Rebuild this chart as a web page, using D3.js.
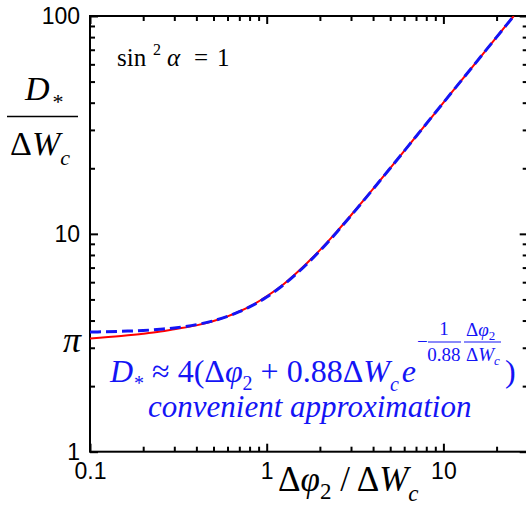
<!DOCTYPE html>
<html>
<head>
<meta charset="utf-8">
<script src="https://cdn.jsdelivr.net/npm/d3@7"></script>
<style>
  body { margin: 0; background: #fff; }
  svg { display: block; }
  .serif { font-family: "Liberation Serif", "Times New Roman", serif; }
  .tick text { font-family: "Liberation Sans", Arial, sans-serif; font-size: 23px; fill: #000; }
</style>
</head>
<body>
<div id="viz-container"></div>
<script>
// x values (Δφ2/ΔWc)
var xValues = [0.1, 0.15, 0.2, 0.25, 0.3, 0.4, 0.5, 0.6, 0.7, 0.8, 1, 1.2, 1.5, 2, 2.5, 3, 4, 5, 7, 10, 15, 20, 25];
// exact curve (red, solid)
var exactValues = [3.31, 3.40, 3.48, 3.56, 3.65, 3.80, 3.98, 4.18, 4.40, 4.63, 5.17, 5.73, 6.70, 8.42, 10.27, 12.17, 16.08, 20.03, 28.0, 40.0, 60.0, 80.0, 100.0];
// approximation (blue, dashed)
var approxValues = [3.54, 3.57, 3.60, 3.65, 3.70, 3.83, 3.99, 4.18, 4.39, 4.62, 5.13, 5.70, 6.64, 8.36, 10.21, 12.12, 16.04, 20.01, 28.0, 40.0, 60.0, 80.0, 100.0];

var xMajor = [0.1, 1, 10];
var xMinor = [0.2, 0.3, 0.4, 0.5, 0.6, 0.7, 0.8, 0.9, 2, 3, 4, 5, 6, 7, 8, 9, 20];
var yMajor = [1, 10, 100];
var yMinor = [2, 3, 4, 5, 6, 7, 8, 9, 20, 30, 40, 50, 60, 70, 80, 90];
var xDomain = [0.1, 30];
var yDomain = [1, 100];

var width = 526, height = 508;
var plotLeft = 90, plotRight = 527.7, plotTop = 16, plotBottom = 451.7;
var blue = "#1414f5";

var svg = d3.select("#viz-container").append("svg")
    .attr("width", width)
    .attr("height", height);

var x = d3.scaleLog().domain(xDomain).range([plotLeft, plotRight]);
var y = d3.scaleLog().domain(yDomain).range([plotBottom, plotTop]);

function drawAxis(axis, tx, ty) {
    var g = svg.append("g")
        .attr("transform", "translate(" + tx + "," + ty + ")")
        .call(axis);
    g.select(".domain").remove();
    g.selectAll(".tick line").attr("stroke", "#000").attr("stroke-width", 2);
    return g;
}

// bottom
drawAxis(d3.axisBottom(x).tickValues(xMajor).tickSize(-8).tickPadding(11).tickFormat(d3.format("")), 0, plotBottom)
    .selectAll("text").attr("dy", "0.71em");
drawAxis(d3.axisBottom(x).tickValues(xMinor).tickSize(-5).tickFormat(""), 0, plotBottom);
// top
drawAxis(d3.axisTop(x).tickValues(xMajor).tickSize(-8).tickFormat(""), 0, plotTop);
drawAxis(d3.axisTop(x).tickValues(xMinor).tickSize(-5).tickFormat(""), 0, plotTop);
// left
drawAxis(d3.axisLeft(y).tickValues(yMajor).tickSize(-8).tickPadding(10).tickFormat(d3.format("")), plotLeft, 0);
drawAxis(d3.axisLeft(y).tickValues(yMinor).tickSize(-5).tickFormat(""), plotLeft, 0);
// right
drawAxis(d3.axisRight(y).tickValues(yMajor).tickSize(-8).tickFormat(""), plotRight, 0);
drawAxis(d3.axisRight(y).tickValues(yMinor).tickSize(-5).tickFormat(""), plotRight, 0);

// frame
svg.append("rect")
    .attr("x", plotLeft).attr("y", plotTop)
    .attr("width", plotRight - plotLeft).attr("height", plotBottom - plotTop)
    .attr("fill", "none").attr("stroke", "#000").attr("stroke-width", 2);

svg.append("clipPath").attr("id", "plot-clip")
    .append("rect")
    .attr("x", plotLeft).attr("y", plotTop)
    .attr("width", plotRight - plotLeft).attr("height", plotBottom - plotTop);

var line = d3.line()
    .x(function(d) { return x(d[0]); })
    .y(function(d) { return y(d[1]); })
    .curve(d3.curveMonotoneX);

var plot = svg.append("g").attr("clip-path", "url(#plot-clip)");

plot.append("path")
    .datum(xValues.map(function(v, i) { return [v, exactValues[i]]; }))
    .attr("d", line)
    .attr("fill", "none")
    .attr("stroke", "#ff0000")
    .attr("stroke-width", 2);

plot.append("path")
    .datum(xValues.map(function(v, i) { return [v, approxValues[i]]; }))
    .attr("d", line)
    .attr("fill", "none")
    .attr("stroke", blue)
    .attr("stroke-width", 3)
    .attr("stroke-dasharray", "11,5");

// pi label on the y axis
svg.append("text").attr("class", "serif")
    .attr("x", 81).attr("y", y(Math.PI) + 9)
    .attr("text-anchor", "end")
    .style("font-size", "36px").style("font-style", "italic")
    .text("π");

// y axis title: D* / ΔWc
var yt = svg.append("text").attr("class", "serif")
    .attr("x", 25).attr("y", 100).style("font-size", "34px");
yt.append("tspan").style("font-style", "italic").text("D");
yt.append("tspan").attr("dx", 3).attr("dy", 9).style("font-size", "22px").text("*");
svg.append("line")
    .attr("x1", 7).attr("x2", 78).attr("y1", 116.5).attr("y2", 116.5)
    .attr("stroke", "#000").attr("stroke-width", 1.5);
var yb = svg.append("text").attr("class", "serif")
    .attr("x", 10).attr("y", 155).style("font-size", "34px");
yb.append("tspan").text("Δ");
yb.append("tspan").style("font-style", "italic").text("W");
yb.append("tspan").attr("dy", 10).style("font-size", "22px").style("font-style", "italic").text("c");

// x axis title: Δφ2 / ΔWc
var xt = svg.append("text").attr("class", "serif")
    .attr("x", 278).attr("y", 491).style("font-size", "35px");
xt.append("tspan").text("Δ");
xt.append("tspan").style("font-style", "italic").text("φ");
xt.append("tspan").attr("dy", 8).style("font-size", "23px").text("2");
xt.append("tspan").attr("dy", -8).style("font-size", "35px").text(" / Δ");
xt.append("tspan").style("font-style", "italic").text("W");
xt.append("tspan").attr("dy", 10).style("font-size", "23px").style("font-style", "italic").text("c");

// sin^2 alpha = 1
var s = svg.append("g").attr("class", "serif").style("font-size", "25px");
s.append("text").attr("x", 117).attr("y", 66).text("sin");
s.append("text").attr("x", 153).attr("y", 55).style("font-size", "16px").text("2");
s.append("text").attr("x", 167).attr("y", 66).style("font-style", "italic").text("α");
s.append("text").attr("x", 194).attr("y", 66).text("=");
s.append("text").attr("x", 217).attr("y", 66).text("1");

// formula
var f = svg.append("text").attr("class", "serif")
    .attr("x", 110).attr("y", 382)
    .style("font-size", "32px").attr("fill", blue);
f.append("tspan").style("font-style", "italic").text("D");
f.append("tspan").attr("dx", 1).attr("dy", 8).style("font-size", "20px").text("*");
f.append("tspan").attr("dy", -8).style("font-size", "32px").text(" ≈ 4(Δ");
f.append("tspan").style("font-style", "italic").text("φ");
f.append("tspan").attr("dy", 8).style("font-size", "20px").text("2");
f.append("tspan").attr("dy", -8).style("font-size", "32px").text(" + 0.88Δ");
f.append("tspan").style("font-style", "italic").text("W");
f.append("tspan").attr("dy", 9).style("font-size", "20px").style("font-style", "italic").text("c");
f.append("tspan").attr("dx", 3).attr("dy", -9).style("font-size", "32px").style("font-style", "italic").text("e");

var fb = f.node().getBBox();
var ex = fb.x + fb.width + 1;
var ef = svg.append("g").attr("class", "serif").attr("fill", blue).style("font-size", "19px");
ef.append("text").attr("x", ex).attr("y", 348).text("−");
ef.append("text").attr("x", ex + 27).attr("y", 335).attr("text-anchor", "middle").text("1");
ef.append("line").attr("x1", ex + 11).attr("x2", ex + 44).attr("y1", 342).attr("y2", 342)
    .attr("stroke", blue).attr("stroke-width", 1.2);
ef.append("text").attr("x", ex + 27).attr("y", 361).attr("text-anchor", "middle").text("0.88");
ef.append("line").attr("x1", ex + 47).attr("x2", ex + 84).attr("y1", 342).attr("y2", 342)
    .attr("stroke", blue).attr("stroke-width", 1.2);
var n2 = ef.append("text").attr("x", ex + 49).attr("y", 336);
n2.append("tspan").text("Δ");
n2.append("tspan").style("font-style", "italic").text("φ");
n2.append("tspan").attr("dy", 4).style("font-size", "13px").text("2");
var d2 = ef.append("text").attr("x", ex + 49).attr("y", 361);
d2.append("tspan").text("Δ");
d2.append("tspan").style("font-style", "italic").text("W");
d2.append("tspan").attr("dy", 4).style("font-size", "13px").style("font-style", "italic").text("c");
svg.append("text").attr("class", "serif")
    .attr("x", ex + 88).attr("y", 382).attr("fill", blue)
    .style("font-size", "32px").text(")");

svg.append("text").attr("class", "serif")
    .attr("x", 148).attr("y", 417).attr("fill", blue)
    .style("font-size", "31px").style("font-style", "italic")
    .text("convenient approximation");
</script>
</body>
</html>
